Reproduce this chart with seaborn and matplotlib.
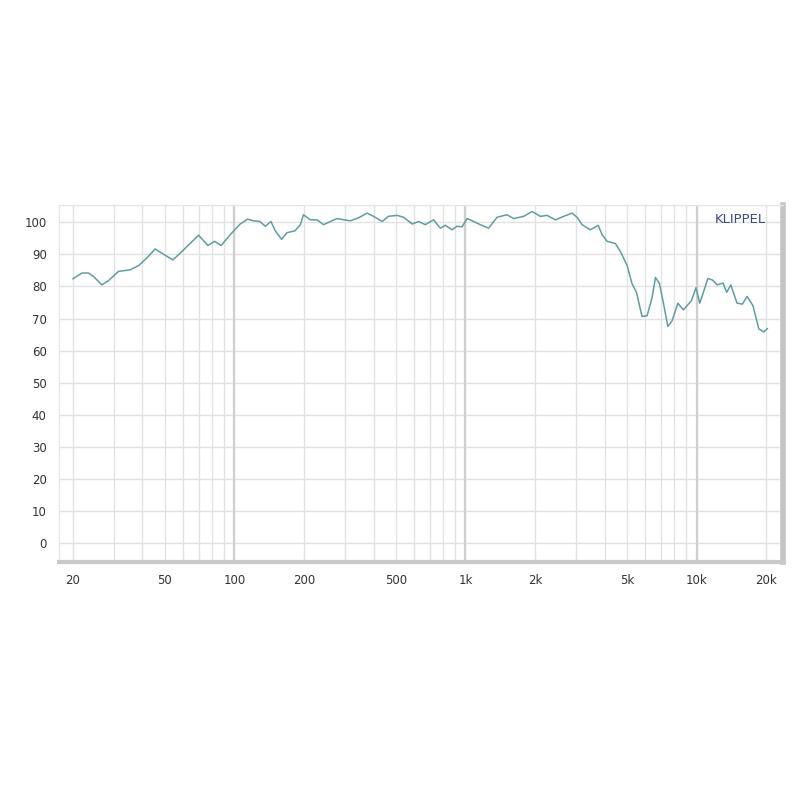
import numpy as np
import pandas as pd
import matplotlib
matplotlib.use("Agg")
import matplotlib.pyplot as plt
import seaborn as sns

freq = [20, 21.9, 23.4, 24.6, 26.7, 28.5, 31.5, 35.4, 38.5, 41.8, 45.4, 49.3, 54.2, 58.3,
        61.8, 70.0, 76.8, 82.1, 87.7, 96.0, 106, 114, 121, 129, 136, 144, 150, 160, 169,
        183, 193, 199, 213, 228, 243, 278, 317, 344, 375, 400, 436, 464, 506, 540, 588,
        627, 670, 728, 778, 818, 875, 919, 966, 1016, 1084, 1159, 1259, 1369, 1512, 1616,
        1786, 1941, 2108, 2254, 2449, 2661, 2892, 3041, 3194, 3469, 3750, 3900, 4102,
        4457, 4681, 5003, 5260, 5492, 5808, 6109, 6418, 6638, 6902, 7178, 7512, 7834,
        8300, 8770, 9500, 9940, 10320, 10650, 11190, 11720, 12280, 13000, 13500, 14060,
        14960, 15780, 16540, 17540, 18580, 19540, 20270]
spl = [82.4, 84.2, 84.2, 83.1, 80.5, 81.8, 84.7, 85.2, 86.5, 88.9, 91.7, 90.1, 88.3, 90.4,
       92.2, 96.0, 92.8, 94.1, 92.8, 96.2, 99.5, 101.0, 100.5, 100.3, 98.8, 100.3, 97.5,
       94.7, 96.8, 97.4, 99.3, 102.4, 100.8, 100.8, 99.3, 101.2, 100.5, 101.4, 102.9,
       101.9, 100.3, 101.9, 102.2, 101.6, 99.5, 100.3, 99.3, 100.8, 98.2, 99.1, 97.7,
       98.8, 98.6, 101.2, 100.3, 99.3, 98.2, 101.6, 102.4, 101.2, 101.9, 103.4, 101.9,
       102.2, 100.8, 101.9, 102.9, 101.6, 99.3, 97.7, 99.1, 96.2, 94.1, 93.4, 90.9, 86.6,
       80.8, 78.2, 70.6, 70.9, 76.5, 82.8, 81.0, 75.0, 67.5, 69.3, 74.8, 72.7, 75.6, 79.6,
       74.8, 77.7, 82.5, 82.0, 80.5, 81.1, 78.2, 80.5, 74.8, 74.5, 76.9, 74.0, 66.8, 65.8,
       66.9]

x_labels = ["20", "50", "100", "200", "500", "1k", "2k", "5k", "10k", "20k"]
x_label_pos = [20, 50, 100, 200, 500, 1000, 2000, 5000, 10000, 20000]
y_ticks = list(range(0, 101, 10))

df = pd.DataFrame({"f": freq, "db": spl})

sns.set_style("white")
plt.rcParams["font.family"] = ["DejaVu Sans"]

fig = plt.figure(figsize=(8, 8), dpi=100)
ax = fig.add_axes([0.074, 0.2975, 0.979 - 0.074, 0.744 - 0.2975])

sns.lineplot(data=df, x="f", y="db", ax=ax, color="#5f9ea0", linewidth=1.1, zorder=5)

ax.set_xscale("log")
ax.set_xlim(17.46, 23700)
ax.set_ylim(-6, 105.5)

# Gitter
grid_f = [d * m for d in (10, 100, 1000, 10000) for m in range(1, 10)]
grid_f = [g for g in grid_f if 20 <= g <= 20000]
ax.set_xticks(grid_f, minor=True)
ax.set_xticks(x_label_pos)
ax.set_xticklabels(x_labels)
ax.grid(which="both", axis="x", color="#e2e2e2", linewidth=1)
for v in (100, 1000, 10000):
    ax.axvline(v, color="#cfcfcf", linewidth=1.6, zorder=1)

ax.set_yticks(y_ticks)
ax.set_yticks(np.arange(-6, 106, 2), minor=True)
ax.grid(which="major", axis="y", color="#e2e2e2", linewidth=1)

ax.tick_params(axis="x", which="both", length=0, pad=9, labelsize=8.5, labelcolor="#333333")
ax.tick_params(axis="y", which="major", direction="out", length=5, width=1,
               color="#e2e2e2", pad=4, labelsize=8.5, labelcolor="#333333")
ax.tick_params(axis="y", which="minor", direction="in", length=5, width=1, color="#dddddd")

for s in ("left", "top"):
    ax.spines[s].set_color("#e6e6e6")
    ax.spines[s].set_linewidth(1)
ax.spines["right"].set_color("#c4c4c4")
ax.spines["right"].set_linewidth(4)
ax.spines["bottom"].set_color("#c8c8c8")
ax.spines["bottom"].set_linewidth(3)

ax.set_xlabel("")
ax.set_ylabel("")

ax.text(0.9765, 0.958, "KLIPPEL", transform=ax.transAxes, ha="right", va="center",
        fontsize=9.5, color="#3d4a7e")

fig.savefig("out.png", dpi=100)
